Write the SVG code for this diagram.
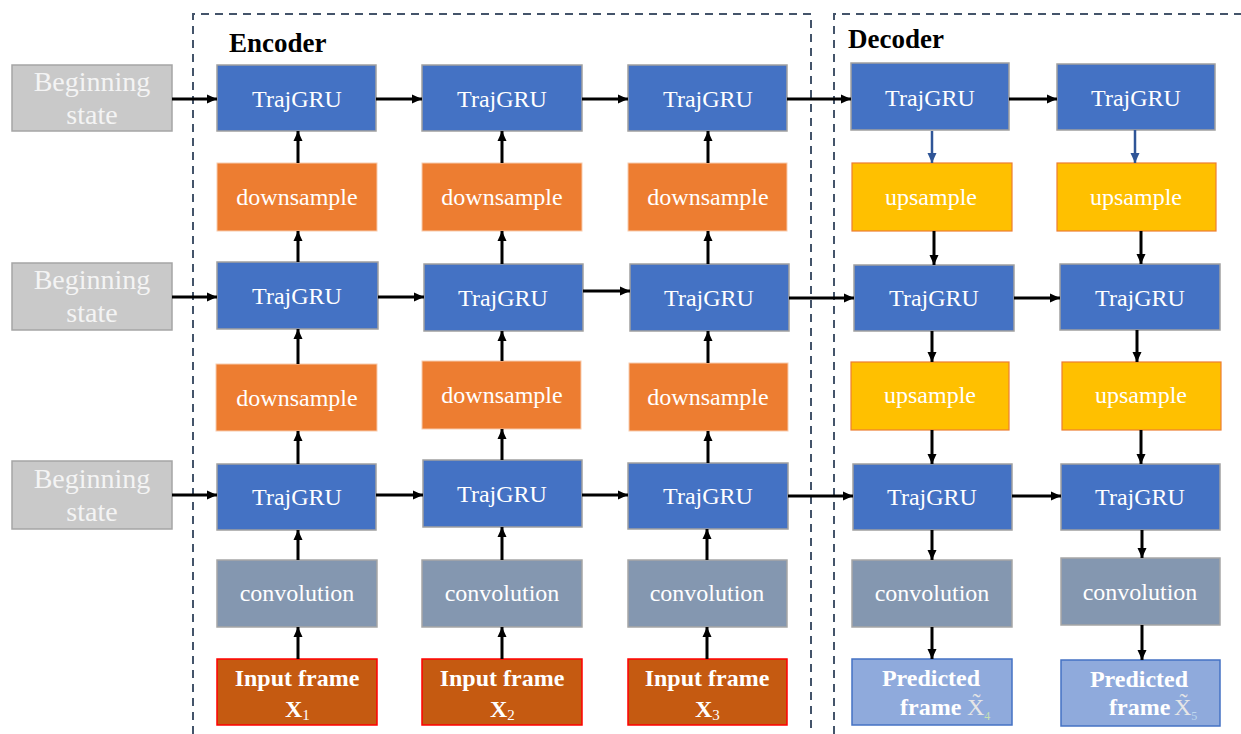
<svg xmlns="http://www.w3.org/2000/svg" width="1241" height="734" viewBox="0 0 1241 734">
  <style>
    text { font-family: "Liberation Serif", "Times New Roman", serif; text-anchor: middle; }
    .lbl { font-size: 24px; fill: #ffffff; }
    .state { fill: #c9c9c9; stroke: #a5a5a5; stroke-width: 1.5; }
    .state-t { font-size: 28px; fill: #f4f4f4; }
    .gru { fill: #4472c4; stroke: #a0a0a0; stroke-width: 1.5; }
    .down { fill: #ed7d31; stroke: #f8cbad; stroke-width: 1; }
    .up { fill: #ffc000; stroke: #ed7d31; stroke-width: 1.2; }
    .conv { fill: #8497b0; stroke: #a6a6a6; stroke-width: 1.5; }
    .inp { fill: #c55a11; stroke: #ff0000; stroke-width: 1.5; }
    .pred { fill: #8faadc; stroke: #4472c4; stroke-width: 1.5; }
    .bold { font-size: 24px; font-weight: bold; fill: #ffffff; }
    .title { font-size: 27px; font-weight: bold; fill: #000000; text-anchor: start; }
    .frame-box { fill: none; stroke: #44546a; stroke-width: 2; stroke-dasharray: 8 6; }
    .arr { stroke: #000000; stroke-width: 3; fill: none; marker-end: url(#head); }
    .arr-b { stroke: #2f5597; stroke-width: 2.5; fill: none; marker-end: url(#head-b); }
  </style>
  <defs>
    <marker id="head" markerUnits="userSpaceOnUse" markerWidth="11" markerHeight="10" refX="10" refY="5" orient="auto">
      <path d="M0,0.5 L10,5 L0,9.5 z" fill="#000000"/>
    </marker>
    <marker id="head-b" markerUnits="userSpaceOnUse" markerWidth="11" markerHeight="10" refX="10" refY="5" orient="auto">
      <path d="M0,0.5 L10,5 L0,9.5 z" fill="#2f5597"/>
    </marker>
  </defs>

  <rect width="1241" height="734" fill="#ffffff"/>

  <!-- encoder / decoder frames -->
  <g id="frames">
    <path class="frame-box" d="M193,734 V14 H811 V734"/>
    <path class="frame-box" d="M834,734 V14 H1241"/>
    <text class="title" x="229" y="52">Encoder</text>
    <text class="title" x="848" y="48">Decoder</text>
  </g>

  <!-- beginning states -->
  <g id="state1"><rect class="state" x="12" y="65" width="160" height="66"/><text class="state-t" x="92" y="91">Beginning</text><text class="state-t" x="92" y="124">state</text></g>
  <g id="state2"><rect class="state" x="12" y="263" width="160" height="67"/><text class="state-t" x="92" y="289">Beginning</text><text class="state-t" x="92" y="322">state</text></g>
  <g id="state3"><rect class="state" x="12" y="461" width="160" height="68"/><text class="state-t" x="92" y="488">Beginning</text><text class="state-t" x="92" y="521">state</text></g>

  <!-- encoder column 1 -->
  <g id="enc-gru-1-1"><rect class="gru" x="217" y="65" width="159" height="66"/><text class="lbl" x="297" y="107">TrajGRU</text></g>
  <g id="enc-down-1-1"><rect class="down" x="217" y="163" width="160" height="68"/><text class="lbl" x="297" y="205">downsample</text></g>
  <g id="enc-gru-2-1"><rect class="gru" x="217" y="262" width="161" height="67"/><text class="lbl" x="297" y="304">TrajGRU</text></g>
  <g id="enc-down-2-1"><rect class="down" x="216" y="364" width="161" height="67"/><text class="lbl" x="297" y="406">downsample</text></g>
  <g id="enc-gru-3-1"><rect class="gru" x="217" y="464" width="159" height="66"/><text class="lbl" x="297" y="505">TrajGRU</text></g>
  <g id="enc-conv-1"><rect class="conv" x="217" y="560" width="160" height="67"/><text class="lbl" x="297" y="601">convolution</text></g>
  <g id="input-1"><rect class="inp" x="217" y="659" width="160" height="66"/><text class="bold" x="297" y="686">Input frame</text><text class="bold" x="285" y="717" style="text-anchor:start">X<tspan style="font-size:15px;font-weight:normal" dy="3">1</tspan></text></g>

  <!-- encoder column 2 -->
  <g id="enc-gru-1-2"><rect class="gru" x="422" y="65" width="160" height="66"/><text class="lbl" x="502" y="107">TrajGRU</text></g>
  <g id="enc-down-1-2"><rect class="down" x="422" y="163" width="160" height="68"/><text class="lbl" x="502" y="205">downsample</text></g>
  <g id="enc-gru-2-2"><rect class="gru" x="424" y="264" width="159" height="67"/><text class="lbl" x="503" y="306">TrajGRU</text></g>
  <g id="enc-down-2-2"><rect class="down" x="422" y="361" width="159" height="68"/><text class="lbl" x="502" y="403">downsample</text></g>
  <g id="enc-gru-3-2"><rect class="gru" x="423" y="460" width="159" height="67"/><text class="lbl" x="502" y="502">TrajGRU</text></g>
  <g id="enc-conv-2"><rect class="conv" x="422" y="560" width="160" height="67"/><text class="lbl" x="502" y="601">convolution</text></g>
  <g id="input-2"><rect class="inp" x="422" y="659" width="160" height="66"/><text class="bold" x="502" y="686">Input frame</text><text class="bold" x="490" y="717" style="text-anchor:start">X<tspan style="font-size:15px;font-weight:normal" dy="3">2</tspan></text></g>

  <!-- encoder column 3 -->
  <g id="enc-gru-1-3"><rect class="gru" x="628" y="65" width="159" height="66"/><text class="lbl" x="708" y="107">TrajGRU</text></g>
  <g id="enc-down-1-3"><rect class="down" x="628" y="163" width="159" height="68"/><text class="lbl" x="708" y="205">downsample</text></g>
  <g id="enc-gru-2-3"><rect class="gru" x="630" y="264" width="159" height="67"/><text class="lbl" x="709" y="306">TrajGRU</text></g>
  <g id="enc-down-2-3"><rect class="down" x="629" y="363" width="159" height="68"/><text class="lbl" x="708" y="405">downsample</text></g>
  <g id="enc-gru-3-3"><rect class="gru" x="628" y="463" width="160" height="66"/><text class="lbl" x="708" y="504">TrajGRU</text></g>
  <g id="enc-conv-3"><rect class="conv" x="628" y="560" width="159" height="67"/><text class="lbl" x="707" y="601">convolution</text></g>
  <g id="input-3"><rect class="inp" x="628" y="659" width="159" height="66"/><text class="bold" x="707" y="686">Input frame</text><text class="bold" x="695" y="717" style="text-anchor:start">X<tspan style="font-size:15px;font-weight:normal" dy="3">3</tspan></text></g>

  <!-- decoder column 4 -->
  <g id="dec-gru-1-4"><rect class="gru" x="851" y="63" width="158" height="67"/><text class="lbl" x="930" y="106">TrajGRU</text></g>
  <g id="dec-up-1-4"><rect class="up" x="852" y="163" width="160" height="68"/><text class="lbl" x="931" y="205">upsample</text></g>
  <g id="dec-gru-2-4"><rect class="gru" x="854" y="265" width="160" height="66"/><text class="lbl" x="934" y="306">TrajGRU</text></g>
  <g id="dec-up-2-4"><rect class="up" x="851" y="362" width="158" height="68"/><text class="lbl" x="930" y="403">upsample</text></g>
  <g id="dec-gru-3-4"><rect class="gru" x="853" y="464" width="159" height="66"/><text class="lbl" x="932" y="505">TrajGRU</text></g>
  <g id="dec-conv-4"><rect class="conv" x="852" y="560" width="160" height="67"/><text class="lbl" x="932" y="601">convolution</text></g>
  <g id="pred-4"><rect class="pred" x="852" y="659" width="160" height="66"/><text class="bold" x="931" y="686">Predicted</text><text class="bold" x="900" y="715" style="text-anchor:start">frame <tspan style="font-weight:normal;fill:#e6e6e6" x="967">X&#x303;</tspan><tspan style="font-size:12px;font-weight:normal;fill:#c5e0b4" dy="5">4</tspan></text></g>

  <!-- decoder column 5 -->
  <g id="dec-gru-1-5"><rect class="gru" x="1057" y="64" width="158" height="66"/><text class="lbl" x="1136" y="106">TrajGRU</text></g>
  <g id="dec-up-1-5"><rect class="up" x="1057" y="163" width="159" height="68"/><text class="lbl" x="1136" y="205">upsample</text></g>
  <g id="dec-gru-2-5"><rect class="gru" x="1060" y="264" width="160" height="66"/><text class="lbl" x="1140" y="306">TrajGRU</text></g>
  <g id="dec-up-2-5"><rect class="up" x="1062" y="362" width="159" height="68"/><text class="lbl" x="1141" y="403">upsample</text></g>
  <g id="dec-gru-3-5"><rect class="gru" x="1061" y="464" width="159" height="66"/><text class="lbl" x="1140" y="505">TrajGRU</text></g>
  <g id="dec-conv-5"><rect class="conv" x="1061" y="558" width="159" height="67"/><text class="lbl" x="1140" y="600">convolution</text></g>
  <g id="pred-5"><rect class="pred" x="1061" y="660" width="159" height="66"/><text class="bold" x="1139" y="687">Predicted</text><text class="bold" x="1109" y="715" style="text-anchor:start">frame<tspan style="font-weight:normal;fill:#e6e6e6" x="1174">X&#x303;</tspan><tspan style="font-size:12px;font-weight:normal;fill:#bdd7ee" dy="5">5</tspan></text></g>

  <!-- connectors -->
  <g id="connectors">
    <!-- row 1, left to right -->
    <line class="arr" x1="172" y1="99" x2="217" y2="99"/>
    <line class="arr" x1="376" y1="99" x2="422" y2="99"/>
    <line class="arr" x1="582" y1="99" x2="628" y2="99"/>
    <line class="arr" x1="787" y1="99" x2="851" y2="99"/>
    <line class="arr" x1="1009" y1="99" x2="1057" y2="99"/>
    <!-- row 2 -->
    <line class="arr" x1="172" y1="297" x2="217" y2="297"/>
    <line class="arr" x1="378" y1="297" x2="424" y2="297"/>
    <line class="arr" x1="583" y1="291" x2="630" y2="291"/>
    <line class="arr" x1="789" y1="298" x2="854" y2="298"/>
    <line class="arr" x1="1014" y1="298" x2="1060" y2="298"/>
    <!-- row 3 -->
    <line class="arr" x1="172" y1="495" x2="217" y2="495"/>
    <line class="arr" x1="376" y1="495" x2="423" y2="495"/>
    <line class="arr" x1="582" y1="495" x2="628" y2="495"/>
    <line class="arr" x1="788" y1="496" x2="853" y2="496"/>
    <line class="arr" x1="1012" y1="496" x2="1061" y2="496"/>

    <!-- encoder column 1, upward -->
    <line class="arr" x1="298" y1="163" x2="298" y2="131"/>
    <line class="arr" x1="298" y1="262" x2="298" y2="231"/>
    <line class="arr" x1="298" y1="364" x2="298" y2="329"/>
    <line class="arr" x1="298" y1="464" x2="298" y2="431"/>
    <line class="arr" x1="298" y1="560" x2="298" y2="530"/>
    <line class="arr" x1="298" y1="659" x2="298" y2="627"/>
    <!-- encoder column 2 -->
    <line class="arr" x1="502" y1="163" x2="502" y2="131"/>
    <line class="arr" x1="502" y1="264" x2="502" y2="231"/>
    <line class="arr" x1="502" y1="361" x2="502" y2="331"/>
    <line class="arr" x1="502" y1="460" x2="502" y2="429"/>
    <line class="arr" x1="502" y1="560" x2="502" y2="527"/>
    <line class="arr" x1="502" y1="659" x2="502" y2="627"/>
    <!-- encoder column 3 -->
    <line class="arr" x1="708" y1="163" x2="708" y2="131"/>
    <line class="arr" x1="708" y1="264" x2="708" y2="231"/>
    <line class="arr" x1="708" y1="363" x2="708" y2="331"/>
    <line class="arr" x1="708" y1="463" x2="708" y2="431"/>
    <line class="arr" x1="707" y1="560" x2="707" y2="529"/>
    <line class="arr" x1="707" y1="659" x2="707" y2="627"/>

    <!-- decoder column 4, downward -->
    <line class="arr-b" x1="932" y1="131" x2="932" y2="163"/>
    <line class="arr" x1="934" y1="231" x2="934" y2="265"/>
    <line class="arr" x1="932" y1="331" x2="932" y2="362"/>
    <line class="arr" x1="932" y1="430" x2="932" y2="464"/>
    <line class="arr" x1="932" y1="530" x2="932" y2="560"/>
    <line class="arr" x1="932" y1="627" x2="932" y2="659"/>
    <!-- decoder column 5 -->
    <line class="arr-b" x1="1135" y1="130" x2="1135" y2="163"/>
    <line class="arr" x1="1141" y1="231" x2="1141" y2="264"/>
    <line class="arr" x1="1137" y1="330" x2="1137" y2="362"/>
    <line class="arr" x1="1141" y1="430" x2="1141" y2="464"/>
    <line class="arr" x1="1142" y1="530" x2="1142" y2="558"/>
    <line class="arr" x1="1142" y1="625" x2="1142" y2="660"/>
  </g>
</svg>
